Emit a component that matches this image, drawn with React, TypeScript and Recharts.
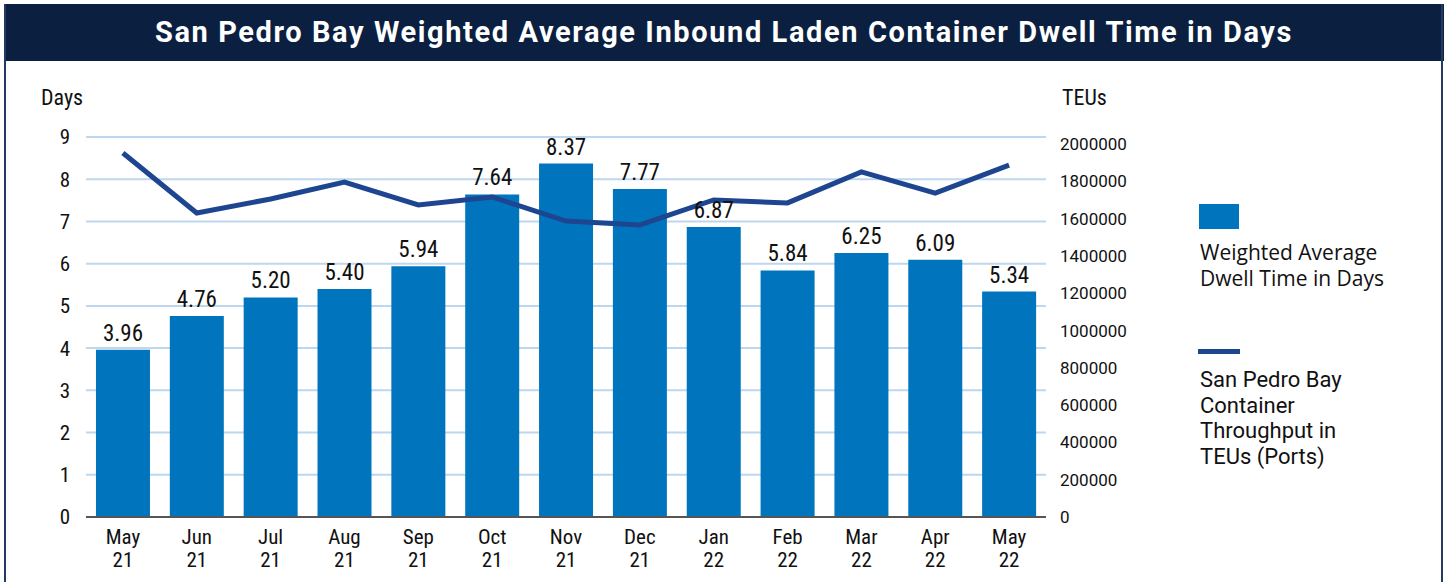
import React from 'react';
import { ComposedChart, Bar, Line, XAxis, YAxis, CartesianGrid, LabelList } from 'recharts';

const months = ['May', 'Jun', 'Jul', 'Aug', 'Sep', 'Oct', 'Nov', 'Dec', 'Jan', 'Feb', 'Mar', 'Apr', 'May'];
const years = ['21', '21', '21', '21', '21', '21', '21', '21', '22', '22', '22', '22', '22'];
const dwellDays = [3.96, 4.76, 5.2, 5.4, 5.94, 7.64, 8.37, 7.77, 6.87, 5.84, 6.25, 6.09, 5.34];
const teus = [1952000, 1630000, 1705000, 1796000, 1673000, 1716000, 1587000, 1566000, 1700000, 1684000, 1850000, 1737000, 1887000];
const leftTicks = [0, 1, 2, 3, 4, 5, 6, 7, 8, 9];
const rightTicks = [0, 200000, 400000, 600000, 800000, 1000000, 1200000, 1400000, 1600000, 1800000, 2000000];

const data = months.map((m, i) => ({
  key: i,
  month: m,
  year: years[i],
  dwell: dwellDays[i],
  teu: teus[i],
}));

const COND = '"Roboto Condensed", "Liberation Sans Narrow", "Arial Narrow", Roboto, sans-serif';
const BAR = '#0075BE';
const LINE = '#1E4690';
const NAVY = '#0B1F40';

const XTick = (props: any) => {
  const { x, y, payload } = props;
  const d = data[payload.value];
  return (
    <g transform={`translate(${x},${y})`}>
      <text textAnchor="middle" fontFamily={COND} fontSize={21} fill="#111">
        <tspan x={0} dy={19}>{d.month}</tspan>
        <tspan x={0} dy={23}>{d.year}</tspan>
      </text>
    </g>
  );
};

export default function App() {
  return (
    <div style={{ position: 'absolute', left: 0, top: 0, width: 1448, height: 582, background: '#fff', overflow: 'hidden' }}>
      <div style={{ position: 'absolute', left: 4, top: 4, width: 1440, height: 57, background: NAVY }} />
      <div style={{ position: 'absolute', left: 4, top: 4, width: 2, height: 578, background: '#243a63' }} />
      <div style={{ position: 'absolute', left: 1441, top: 4, width: 2, height: 578, background: '#243a63' }} />
      <div style={{ position: 'absolute', left: 0, top: 14, width: 1448, textAlign: 'center', color: '#fff', fontFamily: 'Roboto, sans-serif', fontWeight: 700, fontSize: 29, letterSpacing: 1.6, lineHeight: '36px' }}>
        San Pedro Bay Weighted Average Inbound Laden Container Dwell Time in Days
      </div>
      <div style={{ position: 'absolute', left: 41, top: 84, fontFamily: COND, fontSize: 22, color: '#111', lineHeight: '28px' }}>Days</div>
      <div style={{ position: 'absolute', left: 1062, top: 84, fontFamily: COND, fontSize: 22, color: '#111', lineHeight: '28px' }}>TEUs</div>
      <div style={{ position: 'absolute', left: 0, top: 0 }}>
        <ComposedChart width={1448} height={582} data={data} margin={{ top: 137, right: 302, bottom: 0, left: 46 }} barCategoryGap="13.5%">
          <CartesianGrid yAxisId="left" vertical={false} stroke="#BDD7EE" strokeWidth={2} />
          <XAxis dataKey="key" tick={<XTick />} tickLine={false} axisLine={{ stroke: '#555', strokeWidth: 2 }} interval={0} height={65} />
          <YAxis yAxisId="left" orientation="left" domain={[0, 9]} ticks={leftTicks} width={40} tickLine={false} axisLine={false} tickSize={6} tickMargin={10} tick={{ fontFamily: COND, fontSize: 21, fill: '#111' }} interval={0} />
          <YAxis yAxisId="right" orientation="right" domain={[0, 2037500]} ticks={rightTicks} width={100} tickLine={false} axisLine={false} tickSize={6} tickMargin={8} tick={{ fontFamily: 'Roboto, sans-serif', fontSize: 17, fill: '#111', textAnchor: 'start' }} interval={0} />
          <Bar yAxisId="left" dataKey="dwell" fill={BAR} isAnimationActive={false}>
            <LabelList dataKey="dwell" position="top" offset={9} formatter={(v: any) => Number(v).toFixed(2)} style={{ fontFamily: COND, fontSize: 23, fill: '#111' }} />
          </Bar>
          <Line yAxisId="right" dataKey="teu" stroke={LINE} strokeWidth={5} dot={false} isAnimationActive={false} />
        </ComposedChart>
      </div>
      <div style={{ position: 'absolute', left: 1199, top: 204, width: 40, height: 25, background: BAR }} />
      <div style={{ position: 'absolute', left: 1200, top: 239, fontFamily: '"Open Sans", sans-serif', fontSize: 21, lineHeight: '26px', color: '#111', fontWeight: 500 }}>
        Weighted Average<br />Dwell Time in Days
      </div>
      <div style={{ position: 'absolute', left: 1198, top: 349, width: 42, height: 5, background: LINE }} />
      <div style={{ position: 'absolute', left: 1200, top: 367, fontFamily: 'Roboto, sans-serif', fontSize: 22, lineHeight: '25.5px', color: '#111' }}>
        San Pedro Bay<br />Container<br />Throughput in<br />TEUs (Ports)
      </div>
    </div>
  );
}
